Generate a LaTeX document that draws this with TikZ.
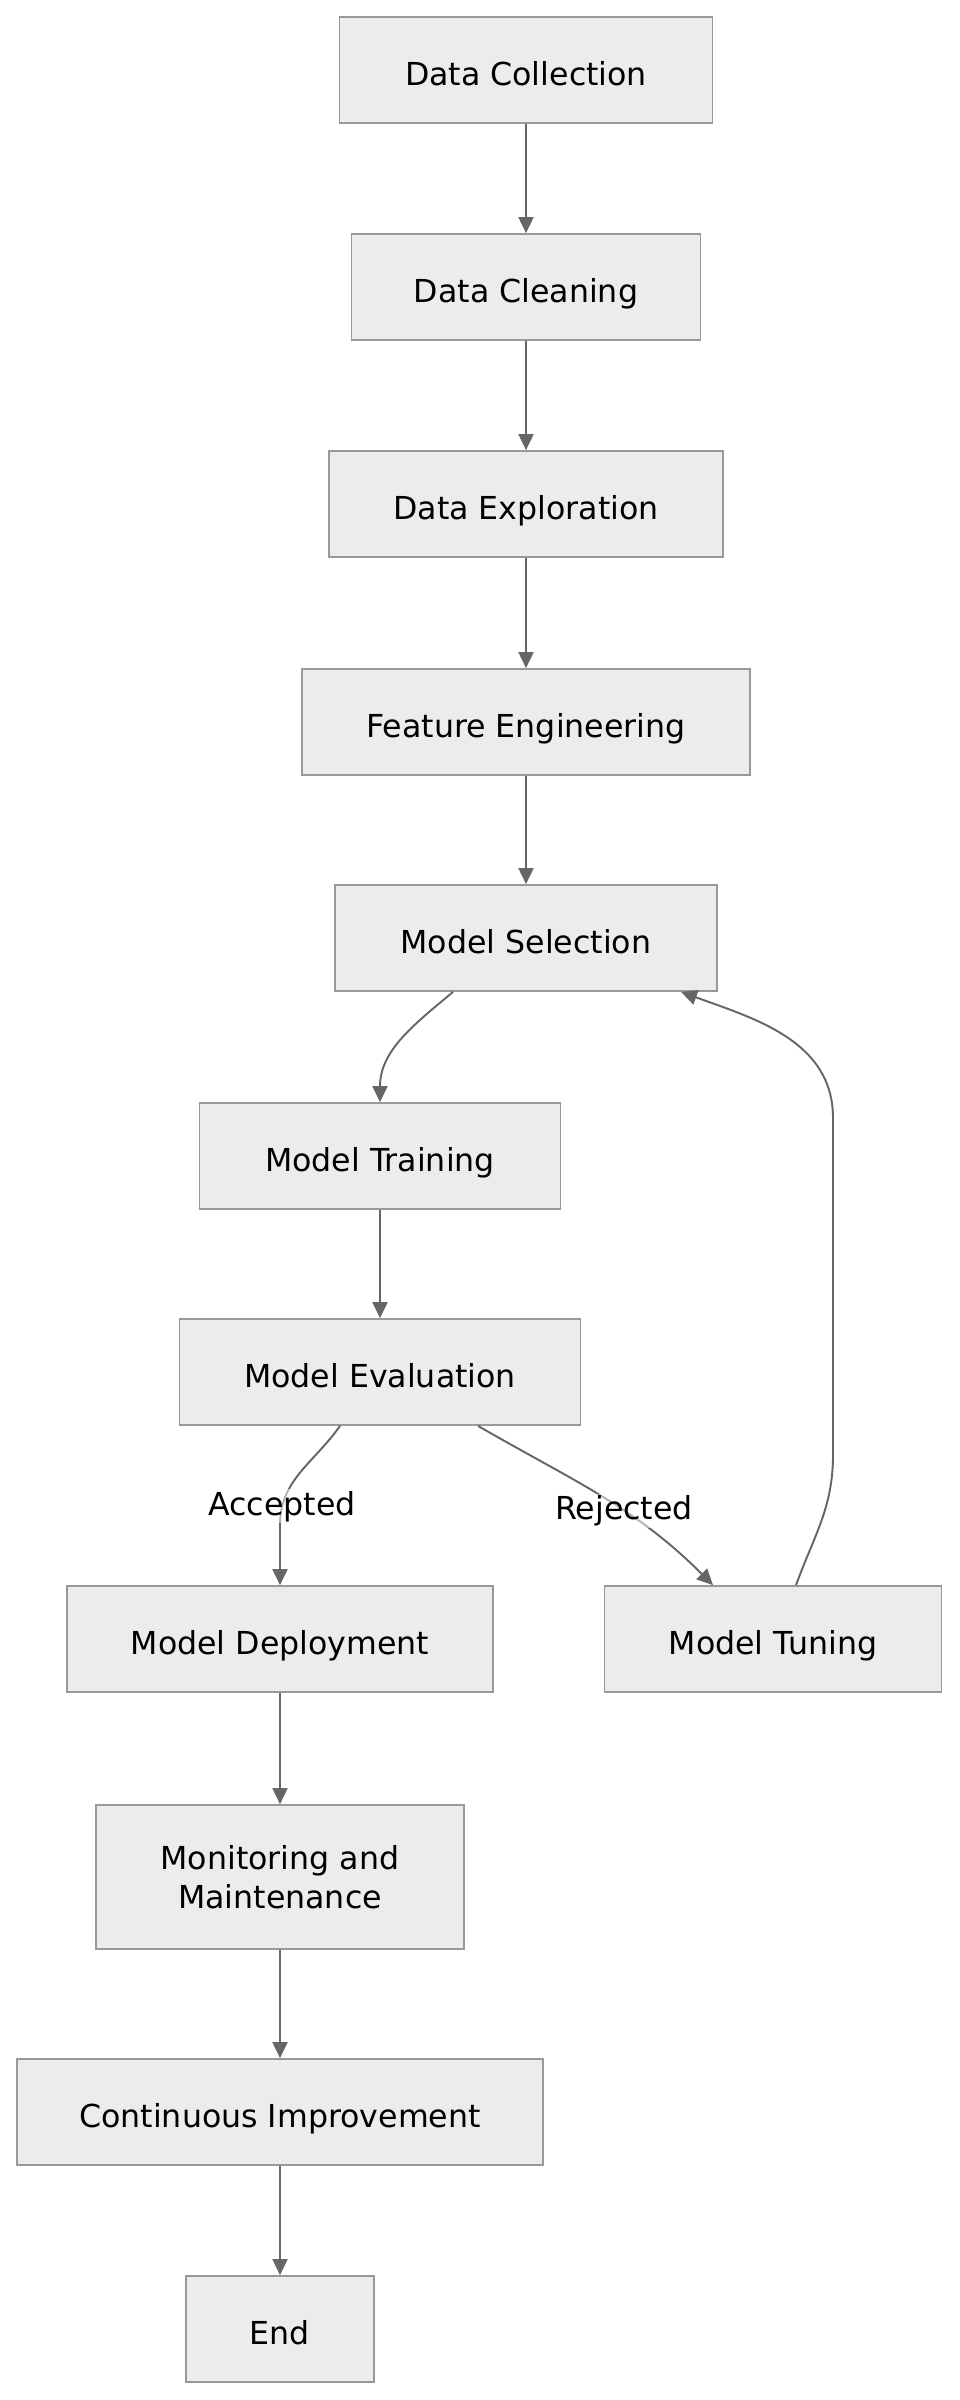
\documentclass[tikz,border=0pt]{standalone}
\usepackage{fontspec}
\setmainfont{DejaVu Sans}
\usepackage{tikz}
\usetikzlibrary{arrows.meta,positioning,calc}
\usepackage{xcolor}
\definecolor{boxfill}{HTML}{ECECEC}
\definecolor{boxline}{HTML}{999999}
\definecolor{edgegray}{HTML}{666666}

\begin{document}
\begin{tikzpicture}[x=0.02cm,y=-0.02cm,>={Triangle[length=0.32cm,width=0.3cm]},
  box/.style={draw=boxline,line width=1pt,fill=boxfill,minimum height=2.12cm,
    inner sep=0pt,font=\fontsize{18}{22}\selectfont},
  stage/.style={box,text height=18.9pt,text depth=0.9pt},
  flow/.style={->,draw=edgegray,line width=1.1pt},
  elabel/.style={font=\fontsize{18}{22}\selectfont,fill=white,fill opacity=0.5,
    text opacity=1,inner sep=1pt}]
  \useasboundingbox (0,0) rectangle (960,2400);

  % Data preparation
  \node[stage,minimum width=7.46cm] (dcoll) at (526,70) {Data Collection};
  \node[stage,minimum width=6.98cm] (dclean) at (526,287) {Data Cleaning};
  \node[stage,minimum width=7.88cm] (dexpl) at (526,504) {Data Exploration};
  \node[stage,minimum width=8.96cm] (feat) at (526,722) {Feature Engineering};

  % Modelling
  \node[stage,minimum width=7.64cm] (msel) at (526,938) {Model Selection};
  \node[stage,minimum width=7.22cm] (mtrain) at (380,1156) {Model Training};
  \node[stage,minimum width=8.02cm] (meval) at (380,1372) {Model Evaluation};
  \node[stage,minimum width=8.52cm] (mdeploy) at (280,1639) {Model Deployment};
  \node[stage,minimum width=6.74cm] (mtune) at (773,1639) {Model Tuning};

  % Operations
  \node[box,align=center,minimum width=7.36cm,minimum height=2.88cm] (monit)
    at (280,1877) {Monitoring and\\Maintenance};
  \node[stage,minimum width=10.52cm] (cimpr) at (280,2112) {Continuous Improvement};
  \node[stage,minimum width=3.76cm] (fin) at (280,2329) {End};

  % Main flow
  \draw[flow] (dcoll) -- (dclean);
  \draw[flow] (dclean) -- (dexpl);
  \draw[flow] (dexpl) -- (feat);
  \draw[flow] (feat) -- (msel);
  \draw[flow] ([xshift=-1.46cm]msel.south) to[out=-140,in=90] (mtrain.north);
  \draw[flow] (mtrain) -- (meval);

  % Decision
  \coordinate (accd) at (280,1525);
  \draw[flow] ([xshift=-0.8cm]meval.south) to[out=-125,in=90]
    node[elabel,pos=0.85] {Accepted} (accd) -- (mdeploy.north);
  \draw[flow] ([xshift=1.96cm]meval.south) to[out=-30,in=135]
    node[elabel,pos=0.6] {Rejected} ([xshift=-1.2cm]mtune.north);

  % Tuning loops back
  \coordinate (tback1) at (833,1455);
  \coordinate (tback2) at (833,1118);
  \draw[flow] ([xshift=0.46cm]mtune.north) to[out=70,in=-90] (tback1) -- (tback2)
    to[out=90,in=-20] ([xshift=3.1cm]msel.south);

  \draw[flow] (mdeploy) -- (monit);
  \draw[flow] (monit) -- (cimpr);
  \draw[flow] (cimpr) -- (fin);
\end{tikzpicture}
\end{document}
